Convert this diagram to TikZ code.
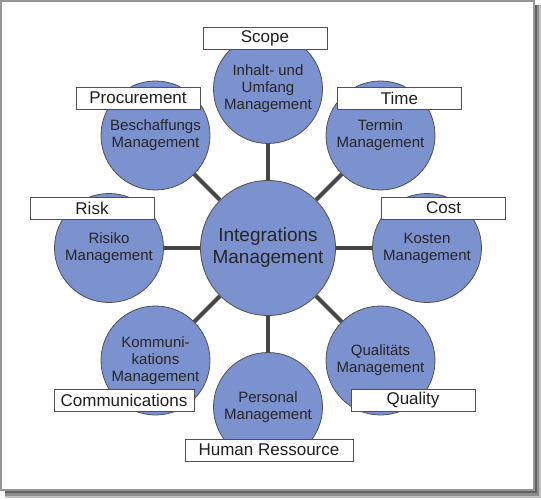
\documentclass[tikz,border=0pt]{standalone}
\usepackage{fontspec}
\setmainfont{Liberation Sans}
\usetikzlibrary{backgrounds}
\definecolor{MgmtBlue}{RGB}{123,146,207}
\definecolor{MgmtEdge}{RGB}{80,80,80}
\definecolor{MgmtLink}{RGB}{70,70,70}
\definecolor{MgmtText}{RGB}{38,38,38}
\definecolor{FrameGray}{RGB}{150,150,150}
\tikzset{
  mgmt circle/.style={
    circle,
    draw=MgmtEdge,
    line width=0.8pt,
    fill=MgmtBlue,
    text=MgmtText,
    align=center,
    inner sep=0pt,
    minimum size=109pt,
    font=\fontsize{15}{17}\selectfont
  },
  mgmt core/.style={mgmt circle, minimum size=135pt, font=\fontsize{19}{22}\selectfont},
  mgmt tag/.style={
    draw=MgmtEdge,
    line width=0.7pt,
    fill=white,
    text=black!88,
    minimum width=124pt,
    minimum height=22pt,
    inner sep=0pt,
    font=\fontsize{17}{19}\selectfont
  },
  mgmt link/.style={line width=4pt, MgmtLink}
}

\begin{document}
\begin{tikzpicture}[x=1pt,y=-1pt]
\useasboundingbox (0,0) rectangle (541,500);
\node[mgmt core] (integ) at (268,248) {Integrations\\Management};
\node[mgmt circle] (scope) at (268,89) {Inhalt- und\\Umfang\\Management};
\node[mgmt circle] (time) at (380.5,135.5) {Termin\\Management};
\node[mgmt circle] (cost) at (427,248) {Kosten\\Management};
\node[mgmt circle] (quality) at (380.5,360.5) {Qualitäts\\Management};
\node[mgmt circle] (human) at (268,407) {Personal\\Management};
\node[mgmt circle] (comm) at (155.5,360.5) {Kommuni-\\kations\\Management};
\node[mgmt circle] (risk) at (109,248) {Risiko\\Management};
\node[mgmt circle] (proc) at (155.5,135.5) {Beschaffungs\\Management};
\node[mgmt tag] (scopetag) at (265,38) {Scope};
\node[mgmt tag] (timetag) at (399.5,98) {Time};
\node[mgmt tag] (proctag) at (138,98) {Procurement};
\node[mgmt tag] (risktag) at (92,208) {Risk};
\node[mgmt tag] (costtag) at (443.5,208) {Cost};
\node[mgmt tag, minimum width=140pt] (commtag) at (124,400) {Communications};
\node[mgmt tag] (qualitytag) at (413,400.5) {Quality};
\node[mgmt tag, minimum width=168pt] (humantag) at (269,450) {Human Ressource};
\begin{scope}[on background layer]
% frame and soft shadow
\fill[black!25] (5,5) rectangle (541,498);
\fill[black!45] (5,5) rectangle (539,496);
\fill[black!62] (5,5) rectangle (537,493);
\draw[FrameGray, fill=white, line width=1.2pt] (1,1) rectangle (534,490);
% spokes
\draw[mgmt link] (integ)--(scope);
\draw[mgmt link] (integ)--(time);
\draw[mgmt link] (integ)--(cost);
\draw[mgmt link] (integ)--(quality);
\draw[mgmt link] (integ)--(human);
\draw[mgmt link] (integ)--(comm);
\draw[mgmt link] (integ)--(risk);
\draw[mgmt link] (integ)--(proc);
\end{scope}
\end{tikzpicture}
\end{document}
